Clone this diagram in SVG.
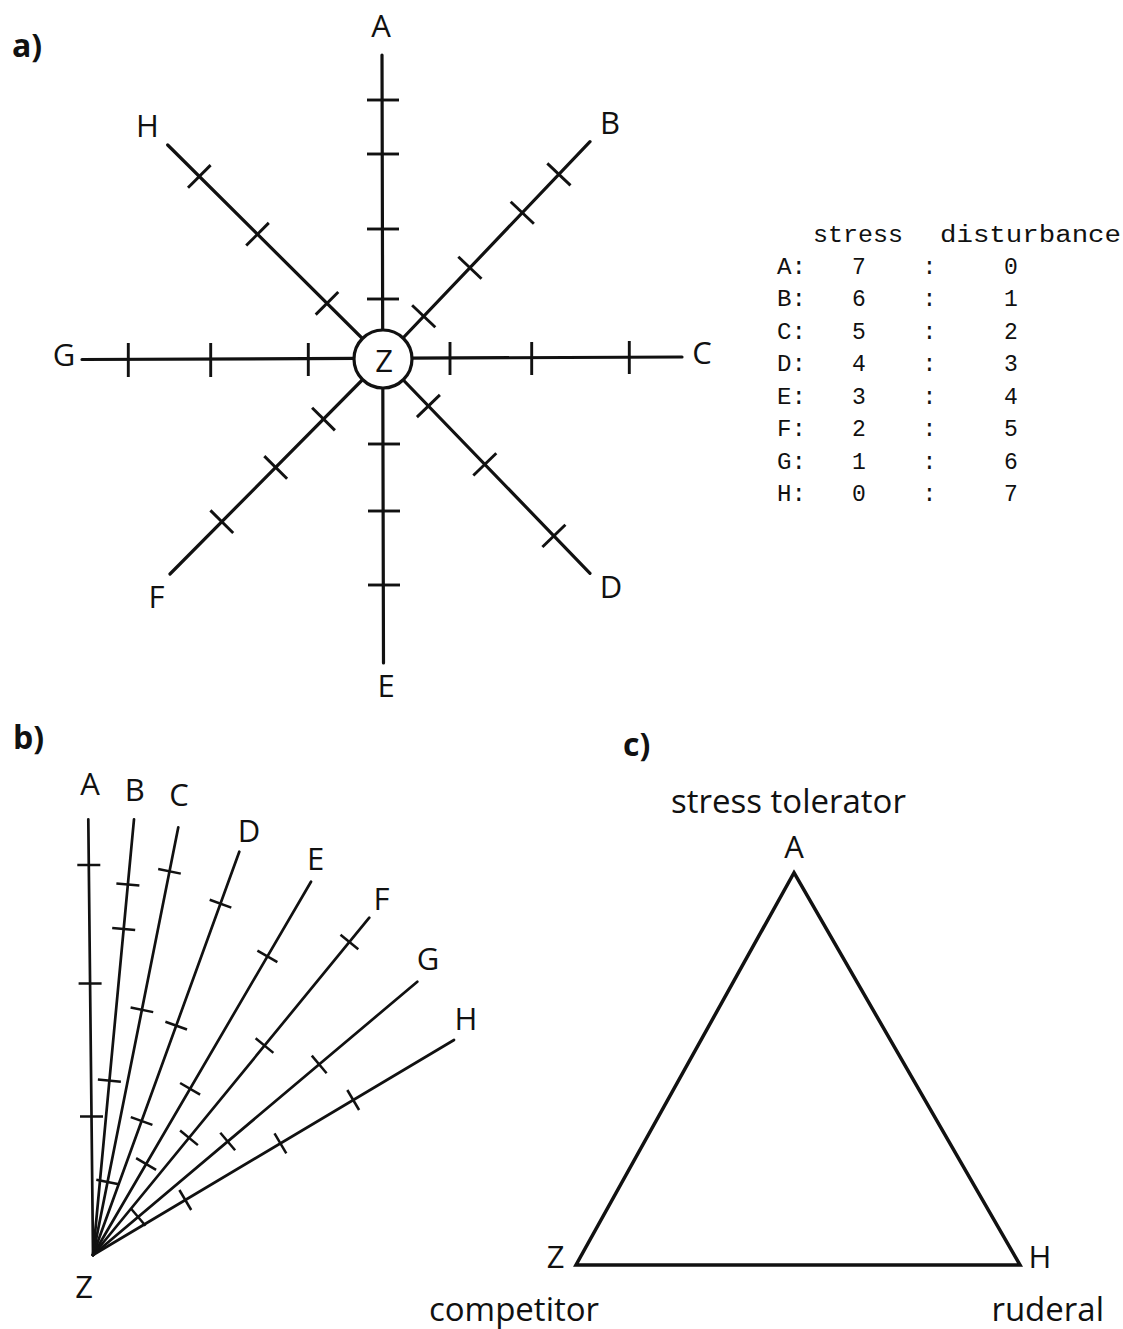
<svg xmlns="http://www.w3.org/2000/svg" width="1123" height="1329" viewBox="0 0 1123 1329">
<style>
.lbl{font-family:"Open Sans","DejaVu Sans",sans-serif;font-size:31px;fill:#111;text-anchor:middle}
.word{font-family:"Open Sans","DejaVu Sans",sans-serif;font-size:33px;fill:#111}
.part{font-family:"Open Sans","DejaVu Sans",sans-serif;font-size:32px;font-weight:bold;fill:#111}
.mono{font-family:"Liberation Mono","Courier New",monospace;font-size:23px;fill:#111}
.mc{text-anchor:middle}
.ax{stroke:#111;stroke-width:3.2;fill:none;stroke-linecap:round}
.tk{stroke:#111;stroke-width:2.9;fill:none}
.bx{stroke:#111;stroke-width:2.7;fill:none;stroke-linecap:round}
.bt{stroke:#111;stroke-width:2.5;fill:none}
</style>
<rect width="1123" height="1329" fill="#fff"/>

<!-- ===== part a ===== -->
<text class="part" x="12" y="57">a)</text>
<g id="a-connectors">
  <line class="ax" x1="382" y1="55" x2="383.5" y2="663"/>
  <line class="ax" x1="82" y1="359.5" x2="682" y2="357"/>
  <line class="ax" x1="167.7" y1="145" x2="383" y2="359"/>
  <line class="ax" x1="590" y1="141.7" x2="383" y2="359"/>
  <line class="ax" x1="170" y1="574" x2="383" y2="359"/>
  <line class="ax" x1="590" y1="573.3" x2="383" y2="359"/>
  <g id="a-ticks">
    <line class="tk" x1="367" y1="100" x2="399" y2="100"/>
    <line class="tk" x1="367" y1="154" x2="399" y2="154"/>
    <line class="tk" x1="367" y1="229" x2="399" y2="229"/>
    <line class="tk" x1="367" y1="299" x2="399" y2="299"/>
    <line class="tk" x1="368" y1="444" x2="400" y2="444"/>
    <line class="tk" x1="368" y1="511" x2="400" y2="511"/>
    <line class="tk" x1="368" y1="585" x2="400" y2="585"/>
    <line class="tk" x1="128.3" y1="343" x2="128.3" y2="377"/>
    <line class="tk" x1="210.7" y1="343" x2="210.7" y2="377"/>
    <line class="tk" x1="308.3" y1="343" x2="308.3" y2="376"/>
    <line class="tk" x1="450" y1="342" x2="450" y2="375"/>
    <line class="tk" x1="531.7" y1="342" x2="531.7" y2="375"/>
    <line class="tk" x1="629.3" y1="341" x2="629.3" y2="374"/>
    <line class="tk" x1="188" y1="187.7" x2="210.6" y2="165.1"/>
    <line class="tk" x1="246.2" y1="245.5" x2="268.8" y2="222.9"/>
    <line class="tk" x1="315.7" y1="314.6" x2="338.3" y2="292"/>
    <line class="tk" x1="547.3" y1="163.4" x2="570.5" y2="185.4"/>
    <line class="tk" x1="510.7" y1="201.7" x2="533.9" y2="223.7"/>
    <line class="tk" x1="458.3" y1="256.8" x2="481.5" y2="278.8"/>
    <line class="tk" x1="412.1" y1="305.3" x2="435.3" y2="327.3"/>
    <line class="tk" x1="210.4" y1="510.4" x2="233.2" y2="533"/>
    <line class="tk" x1="264.3" y1="456.1" x2="287.1" y2="478.7"/>
    <line class="tk" x1="312.1" y1="407.8" x2="334.9" y2="430.4"/>
    <line class="tk" x1="416.9" y1="417.1" x2="439.9" y2="394.9"/>
    <line class="tk" x1="473.3" y1="475.5" x2="496.3" y2="453.3"/>
    <line class="tk" x1="542.4" y1="547" x2="565.4" y2="524.8"/>
  </g>
</g>
<g id="a-node-Z">
  <circle cx="383" cy="359" r="29" fill="#fff" stroke="#111" stroke-width="3.2"/>
  <text class="lbl" x="384" y="372">Z</text>
</g>
<g id="a-node-A"><text class="lbl" x="381" y="37">A</text></g>
<g id="a-node-B"><text class="lbl" x="610" y="134">B</text></g>
<g id="a-node-C"><text class="lbl" x="702" y="364">C</text></g>
<g id="a-node-D"><text class="lbl" x="611" y="598">D</text></g>
<g id="a-node-E"><text class="lbl" x="386" y="697">E</text></g>
<g id="a-node-F"><text class="lbl" x="156.5" y="608">F</text></g>
<g id="a-node-G"><text class="lbl" x="64" y="366">G</text></g>
<g id="a-node-H"><text class="lbl" x="147.5" y="137">H</text></g>

<!-- ===== table ===== -->
<g id="table">
  <text class="mono" x="813" y="242" textLength="90" lengthAdjust="spacingAndGlyphs">stress</text>
  <text class="mono" x="940" y="242" textLength="181" lengthAdjust="spacingAndGlyphs">disturbance</text>
  <g id="row-A"><text class="mono" x="777" y="273.5" textLength="29" lengthAdjust="spacingAndGlyphs">A:</text><text class="mono mc" x="859" y="273.5">7</text><text class="mono mc" x="929.5" y="273.5">:</text><text class="mono mc" x="1011" y="273.5">0</text></g>
  <g id="row-B"><text class="mono" x="777" y="306" textLength="29" lengthAdjust="spacingAndGlyphs">B:</text><text class="mono mc" x="859" y="306">6</text><text class="mono mc" x="929.5" y="306">:</text><text class="mono mc" x="1011" y="306">1</text></g>
  <g id="row-C"><text class="mono" x="777" y="338.5" textLength="29" lengthAdjust="spacingAndGlyphs">C:</text><text class="mono mc" x="859" y="338.5">5</text><text class="mono mc" x="929.5" y="338.5">:</text><text class="mono mc" x="1011" y="338.5">2</text></g>
  <g id="row-D"><text class="mono" x="777" y="371" textLength="29" lengthAdjust="spacingAndGlyphs">D:</text><text class="mono mc" x="859" y="371">4</text><text class="mono mc" x="929.5" y="371">:</text><text class="mono mc" x="1011" y="371">3</text></g>
  <g id="row-E"><text class="mono" x="777" y="403.5" textLength="29" lengthAdjust="spacingAndGlyphs">E:</text><text class="mono mc" x="859" y="403.5">3</text><text class="mono mc" x="929.5" y="403.5">:</text><text class="mono mc" x="1011" y="403.5">4</text></g>
  <g id="row-F"><text class="mono" x="777" y="436" textLength="29" lengthAdjust="spacingAndGlyphs">F:</text><text class="mono mc" x="859" y="436">2</text><text class="mono mc" x="929.5" y="436">:</text><text class="mono mc" x="1011" y="436">5</text></g>
  <g id="row-G"><text class="mono" x="777" y="468.5" textLength="29" lengthAdjust="spacingAndGlyphs">G:</text><text class="mono mc" x="859" y="468.5">1</text><text class="mono mc" x="929.5" y="468.5">:</text><text class="mono mc" x="1011" y="468.5">6</text></g>
  <g id="row-H"><text class="mono" x="777" y="501" textLength="29" lengthAdjust="spacingAndGlyphs">H:</text><text class="mono mc" x="859" y="501">0</text><text class="mono mc" x="929.5" y="501">:</text><text class="mono mc" x="1011" y="501">7</text></g>
</g>

<!-- ===== part b ===== -->
<text class="part" x="13" y="749">b)</text>
<g id="b-connectors">
  <line class="bx" x1="93" y1="1255" x2="88.3" y2="819.3"/>
  <line class="bx" x1="93" y1="1255" x2="134" y2="819.3"/>
  <line class="bx" x1="93" y1="1255" x2="178.3" y2="827.3"/>
  <line class="bx" x1="93" y1="1255" x2="239.3" y2="851.7"/>
  <line class="bx" x1="93" y1="1255" x2="311" y2="881.7"/>
  <line class="bx" x1="93" y1="1255" x2="369.3" y2="917.7"/>
  <line class="bx" x1="93" y1="1255" x2="417.3" y2="981.7"/>
  <line class="bx" x1="93" y1="1255" x2="454" y2="1040"/>
  <g id="b-ticks">
    <line class="bt" x1="77.3" y1="865" x2="100.3" y2="865"/>
    <line class="bt" x1="78.6" y1="983.5" x2="101.6" y2="983.5"/>
    <line class="bt" x1="80" y1="1116.5" x2="103" y2="1116.5"/>
    <line class="bt" x1="116.4" y1="883.4" x2="139.4" y2="885.6"/>
    <line class="bt" x1="112.2" y1="927.9" x2="135.2" y2="930.1"/>
    <line class="bt" x1="97.9" y1="1079.5" x2="120.9" y2="1081.7"/>
    <line class="bt" x1="158.2" y1="869" x2="180.8" y2="873.6"/>
    <line class="bt" x1="130.6" y1="1007.5" x2="153.2" y2="1012.1"/>
    <line class="bt" x1="96.3" y1="1179.7" x2="118.9" y2="1184.3"/>
    <line class="bt" x1="209.7" y1="899.8" x2="231.3" y2="907.6"/>
    <line class="bt" x1="165.4" y1="1021.7" x2="187" y2="1029.5"/>
    <line class="bt" x1="130.8" y1="1117.1" x2="152.4" y2="1124.9"/>
    <line class="bt" x1="257.4" y1="950.6" x2="277.4" y2="962.2"/>
    <line class="bt" x1="180.1" y1="1083" x2="200.1" y2="1094.6"/>
    <line class="bt" x1="136.1" y1="1158.2" x2="156.1" y2="1169.8"/>
    <line class="bt" x1="340.5" y1="934.7" x2="358.3" y2="949.3"/>
    <line class="bt" x1="255.6" y1="1038.3" x2="273.4" y2="1052.9"/>
    <line class="bt" x1="180.1" y1="1130.5" x2="197.9" y2="1145.1"/>
    <line class="bt" x1="311.8" y1="1055.6" x2="326.6" y2="1073.2"/>
    <line class="bt" x1="220.3" y1="1132.7" x2="235.1" y2="1150.3"/>
    <line class="bt" x1="130.7" y1="1208.2" x2="145.5" y2="1225.8"/>
    <line class="bt" x1="347.3" y1="1090" x2="359.1" y2="1110"/>
    <line class="bt" x1="274.5" y1="1133.4" x2="286.3" y2="1153.4"/>
    <line class="bt" x1="179.4" y1="1190" x2="191.2" y2="1210"/>
  </g>
</g>
<g id="b-node-Z"><text class="lbl" x="84" y="1298">Z</text></g>
<g id="b-node-A"><text class="lbl" x="90" y="795">A</text></g>
<g id="b-node-B"><text class="lbl" x="134.7" y="801">B</text></g>
<g id="b-node-C"><text class="lbl" x="179" y="806">C</text></g>
<g id="b-node-D"><text class="lbl" x="249" y="842">D</text></g>
<g id="b-node-E"><text class="lbl" x="315.5" y="870">E</text></g>
<g id="b-node-F"><text class="lbl" x="381.5" y="910">F</text></g>
<g id="b-node-G"><text class="lbl" x="428" y="970">G</text></g>
<g id="b-node-H"><text class="lbl" x="466" y="1030">H</text></g>

<!-- ===== part c ===== -->
<text class="part" x="623" y="756">c)</text>
<g id="c-connectors">
  <polygon points="794,872.7 1020,1265 576,1265" fill="none" stroke="#111" stroke-width="3.5" stroke-linejoin="miter"/>
</g>
<g id="c-node-A">
  <text class="word" x="788.5" y="813" text-anchor="middle">stress tolerator</text>
  <text class="lbl" x="794" y="858">A</text>
</g>
<g id="c-node-Z">
  <text class="lbl" x="555.5" y="1268">Z</text>
  <text class="word" x="514" y="1321" text-anchor="middle">competitor</text>
</g>
<g id="c-node-H">
  <text class="lbl" x="1040" y="1268">H</text>
  <text class="word" x="1104" y="1321" text-anchor="end">ruderal</text>
</g>
</svg>
